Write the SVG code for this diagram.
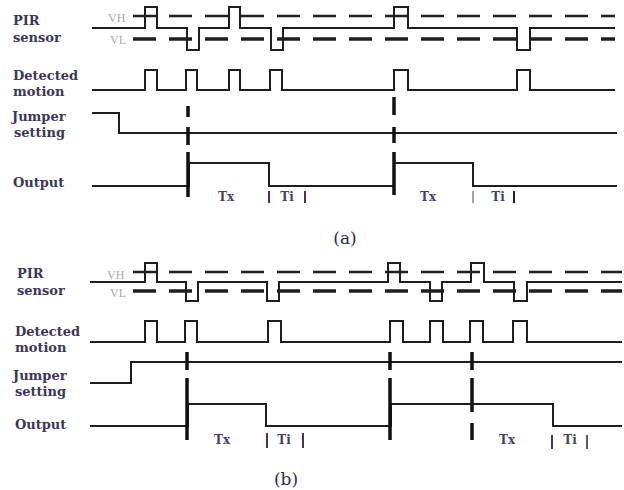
<svg xmlns="http://www.w3.org/2000/svg" width="624" height="490" viewBox="0 0 624 490">
<style>
.lbl{font-family:"DejaVu Serif","Liberation Serif",serif;font-weight:bold;font-size:13px;fill:#3c3657}
.v{font-family:"Liberation Serif",serif;font-size:12px;fill:#a8a8a8}
.t{font-family:"DejaVu Serif","Liberation Serif",serif;font-weight:bold;font-size:12px;fill:#4a3f5e;text-anchor:middle}
.cap{font-family:"DejaVu Serif","Liberation Serif",serif;font-size:17px;fill:#2e2a45;text-anchor:middle}
.w{fill:none;stroke:#1e1e1e;stroke-width:2}
.vh{fill:none;stroke:#1e1e1e;stroke-width:2.5;stroke-dasharray:23 13}
.vl{fill:none;stroke:#1e1e1e;stroke-width:3.5;stroke-dasharray:23 13}
.mk{fill:none;stroke:#111;stroke-width:3.5}
.bar{stroke:#5a3048;stroke-width:2}
</style>
<rect width="624" height="490" fill="#fff"/>

<!-- Panel (a) -->
<g id="a-labels">
<text class="lbl" x="13" y="25">PIR</text>
<text class="lbl" x="13" y="42">sensor</text>
<text class="lbl" x="13" y="80">Detected</text>
<text class="lbl" x="13" y="96">motion</text>
<text class="lbl" x="12" y="121">Jumper</text>
<text class="lbl" x="14" y="137">setting</text>
<text class="lbl" x="13" y="187">Output</text>
<text class="v" x="108" y="22">VH</text>
<text class="v" x="110" y="44">VL</text>
</g>
<g id="a-pir">
<line class="vh" x1="133" y1="16" x2="615" y2="16"/>
<line class="vl" x1="133" y1="39" x2="615" y2="39"/>
<path class="w" d="M92,28 H145 V7 H157 V28 H187 V50 H199 V28 H229 V7 H240 V28 H271 V50 H283 V28 H394 V7 H408 V28 H517 V50 H530 V28 H615"/>
</g>
<g id="a-motion">
<path class="w" d="M92,90 H145 V70 H157 V90 H186 V70 H197 V90 H229 V70 H240 V90 H270 V70 H282 V90 H394 V70 H408 V90 H517 V70 H530 V90 H615"/>
</g>
<g id="a-jumper">
<path class="w" d="M92,113 H119 V133 H617"/>
</g>
<g id="a-output">
<path class="w" d="M92,186 H189 V163 H269 V186 H394 V163 H473 V186 H617"/>
</g>
<g id="a-markers">
<path class="mk" d="M188,106 V117 M188,127 V145 M188,152 V197"/>
<path class="mk" d="M394,97 V115 M394,127 V143 M394,152 V195"/>
</g>
<g id="a-times">
<text class="t" x="226" y="201">Tx</text>
<line class="bar" x1="269" y1="191" x2="269" y2="203"/>
<text class="t" x="287" y="201">Ti</text>
<line class="bar" x1="305" y1="191" x2="305" y2="203"/>
<text class="t" x="428" y="201">Tx</text>
<line class="bar" x1="473" y1="191" x2="473" y2="203" style="stroke:#888;stroke-width:1.5"/>
<text class="t" x="498" y="201">Ti</text>
<line class="bar" x1="514" y1="191" x2="514" y2="203" style="stroke:#222"/>
</g>
<text class="cap" x="345" y="244">(a)</text>

<!-- Panel (b) -->
<g id="b-labels">
<text class="lbl" x="17" y="278">PIR</text>
<text class="lbl" x="17" y="295">sensor</text>
<text class="lbl" x="15" y="336">Detected</text>
<text class="lbl" x="15" y="352">motion</text>
<text class="lbl" x="13" y="380">Jumper</text>
<text class="lbl" x="15" y="396">setting</text>
<text class="lbl" x="15" y="429">Output</text>
<text class="v" x="107" y="279">VH</text>
<text class="v" x="110" y="297">VL</text>
</g>
<g id="b-pir">
<line class="vh" x1="133" y1="272" x2="622" y2="272"/>
<line class="vl" x1="133" y1="291" x2="622" y2="291"/>
<path class="w" d="M90,282 H145 V263 H157 V282 H186 V301 H198 V282 H267 V301 H279 V282 H388 V263 H400 V282 H430 V301 H442 V282 H471 V263 H484 V282 H514 V301 H527 V282 H622"/>
</g>
<g id="b-motion">
<path class="w" d="M90,342 H145 V321 H157 V342 H185 V321 H197 V342 H268 V321 H281 V342 H390 V321 H403 V342 H430 V321 H443 V342 H470 V321 H483 V342 H513 V321 H527 V342 H622"/>
</g>
<g id="b-jumper">
<path class="w" d="M90,383 H131 V362 H622"/>
</g>
<g id="b-output">
<path class="w" d="M90,426 H188 V404 H266 V426 H391 V404 H553 V426 H622"/>
</g>
<g id="b-markers">
<path class="mk" d="M187,352 V370 M187,378 V440"/>
<path class="mk" d="M390,352 V370 M390,378 V440"/>
<path class="mk" d="M472,352 V370 M472,378 V412 M472,423 V440"/>
</g>
<g id="b-times">
<text class="t" x="222" y="444">Tx</text>
<line class="bar" x1="267" y1="433" x2="267" y2="448"/>
<text class="t" x="284" y="444">Ti</text>
<line class="bar" x1="303" y1="433" x2="303" y2="448"/>
<text class="t" x="507" y="444">Tx</text>
<line class="bar" x1="552" y1="435" x2="552" y2="449" style="stroke:#3a3a70"/>
<text class="t" x="570" y="444">Ti</text>
<line class="bar" x1="587" y1="435" x2="587" y2="449" style="stroke:#6a5080"/>
</g>
<text class="cap" x="286" y="485">(b)</text>
</svg>
